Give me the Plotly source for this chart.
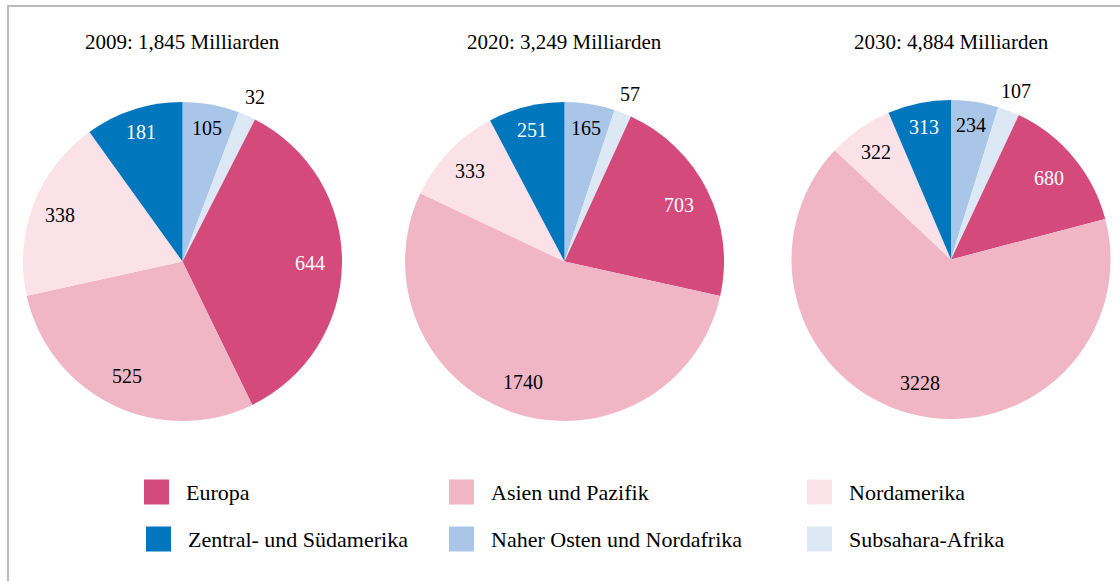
import math
import plotly.graph_objects as go

# ---------------- data ----------------
regions = ["Europa", "Asien und Pazifik", "Nordamerika",
           "Zentral- und Südamerika", "Naher Osten und Nordafrika", "Subsahara-Afrika"]
titles = ["2009: 1,845 Milliarden", "2020: 3,249 Milliarden", "2030: 4,884 Milliarden"]
values_2009 = [644, 525, 338, 181, 105, 32]
values_2020 = [703, 1740, 333, 251, 165, 57]
values_2030 = [680, 3228, 322, 313, 234, 107]
all_values = [values_2009, values_2020, values_2030]

# ---------------- style ----------------
colors = ["#D44A7B", "#F1B6C5", "#FAE2E8", "#0076BD", "#A9C6E9", "#DDE8F5"]
text_colors = ["white", "black", "black", "white", "black", "black"]
label_r = [0.80, 0.80, 0.82, 0.85, 0.85, 1.13]   # label radius as share of pie radius
draw_order = [4, 5, 0, 1, 2, 3]                 # clockwise from 12 o'clock
FONT = "Liberation Serif"
W, H = 1120, 581
centers = [(182.5, 261.5), (564.5, 261.5), (951.0, 259.5)]
R = 159.5

fig = go.Figure()
annotations = []

for k, vals in enumerate(all_values):
    cx, cy = centers[k]
    ordered_vals = [vals[i] for i in draw_order]
    ordered_lbls = [regions[i] for i in draw_order]
    ordered_cols = [colors[i] for i in draw_order]
    fig.add_trace(go.Pie(
        values=ordered_vals, labels=ordered_lbls,
        marker=dict(colors=ordered_cols, line=dict(width=0)),
        sort=False, direction="clockwise", rotation=0,
        textinfo="none", hoverinfo="label+value", showlegend=False,
        domain=dict(x=[(cx - R) / W, (cx + R) / W],
                    y=[1 - (cy + R) / H, 1 - (cy - R) / H]),
    ))
    total = sum(vals)
    cum = 0
    for i in draw_order:
        v = vals[i]
        theta = (cum + v / 2) / total * 2 * math.pi
        cum += v
        rr = label_r[i] * R
        px = cx + rr * math.sin(theta)
        py = cy - rr * math.cos(theta)
        annotations.append(dict(
            x=px / W, y=1 - py / H, xref="paper", yref="paper",
            text=str(v), showarrow=False, xanchor="center", yanchor="middle",
            font=dict(family=FONT, size=20, color=text_colors[i])))
    annotations.append(dict(
        x=cx / W, y=1 - 42 / H, xref="paper", yref="paper",
        text=titles[k], showarrow=False, xanchor="center", yanchor="middle",
        font=dict(family=FONT, size=21, color="black")))

# ---------------- legend (manual grid) ----------------
shapes = []
col_x = [144, 449, 807]
row_y = [492, 539]
for idx, name in enumerate(regions):
    r_, c_ = divmod(idx, 3)
    x0 = col_x[c_] + (2 if r_ == 1 and c_ == 0 else 0)
    yc = row_y[r_]
    shapes.append(dict(type="rect", xref="paper", yref="paper",
                       x0=x0 / W, x1=(x0 + 25) / W,
                       y0=1 - (yc + 12.5) / H, y1=1 - (yc - 12.5) / H,
                       fillcolor=colors[idx], line=dict(width=0)))
    annotations.append(dict(
        x=(x0 + 40) / W, y=1 - yc / H, xref="paper", yref="paper",
        text=name, showarrow=False, xanchor="left", yanchor="middle",
        font=dict(family=FONT, size=22, color="black")))

# frame lines (left and top)
shapes.append(dict(type="line", xref="paper", yref="paper",
                   x0=8 / W, x1=8 / W, y0=0, y1=1 - 5 / H,
                   line=dict(color="#BBBBBB", width=2)))
shapes.append(dict(type="line", xref="paper", yref="paper",
                   x0=7 / W, x1=1, y0=1 - 6 / H, y1=1 - 6 / H,
                   line=dict(color="#BBBBBB", width=2)))

fig.update_layout(
    width=W, height=H,
    margin=dict(l=0, r=0, t=0, b=0, pad=0),
    paper_bgcolor="white", plot_bgcolor="white",
    annotations=annotations, shapes=shapes,
    showlegend=False,
)

fig.write_html("out.html")
